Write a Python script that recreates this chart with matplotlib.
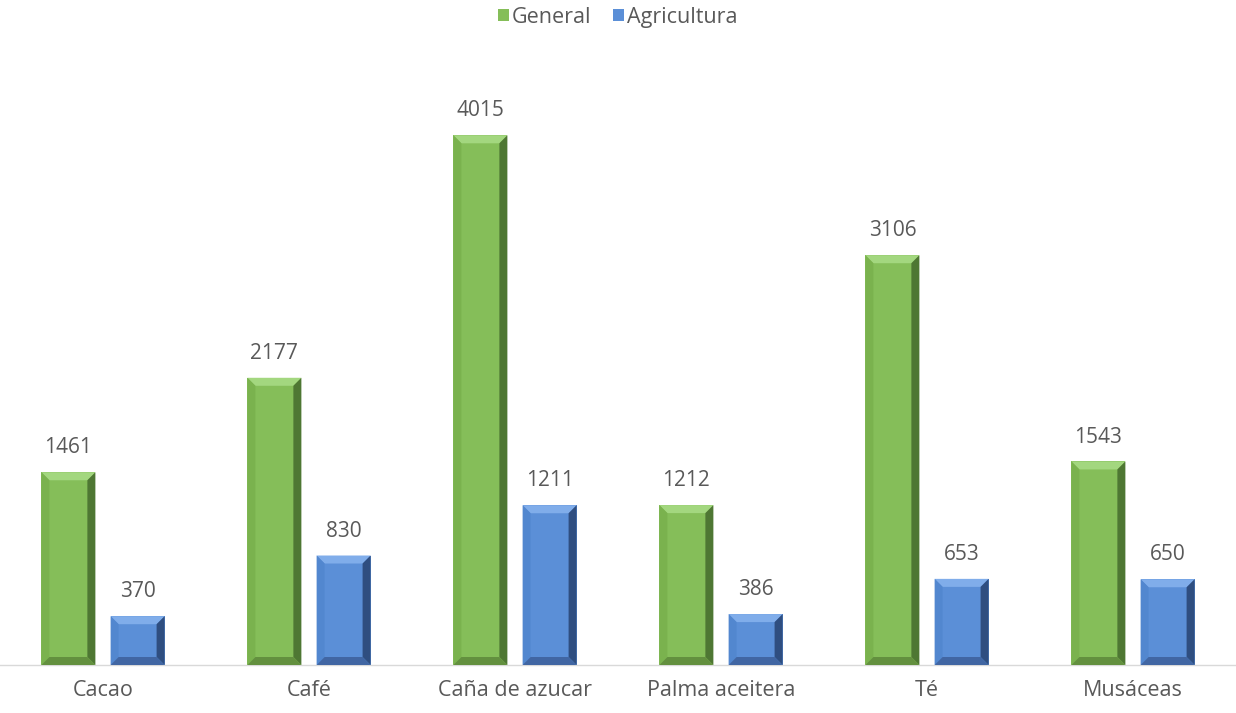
import matplotlib
matplotlib.use("Agg")
import matplotlib.pyplot as plt
from matplotlib.patches import Polygon, Rectangle
import numpy as np

categories = ["Cacao", "Café", "Caña de azucar", "Palma aceitera", "Té", "Musáceas"]
general = [1461, 2177, 4015, 1212, 3106, 1543]
agricultura = [370, 830, 1211, 386, 653, 650]
series_names = ["General", "Agricultura"]

plt.rcParams['font.family'] = ['Open Sans', 'DejaVu Sans']
TEXT = "#595959"

fig = plt.figure(figsize=(12.36, 7.13), dpi=100)
ax = fig.add_axes([0.0, 0.0673, 1.0, 0.8327])

x = np.arange(len(categories))
width = 0.262
offset = 0.168
ymax = 4500
ax.set_xlim(-0.5, len(categories) - 0.5)
ax.set_ylim(0, ymax)

palettes = {
    "General": dict(face="#85be59", top="#a3d77f", left="#7ab24e", right="#4e7733", bottom="#63903f"),
    "Agricultura": dict(face="#5b8fd7", top="#80adea", left="#5287cf", right="#2f4e80", bottom="#4166a3"),
}

bx = 8 / 206.0
by = 8 / (593.0 / ymax)

def bevel_bar(xc, h, pal):
    x0, x1 = xc - width / 2, xc + width / 2
    y0, y1 = 0, h
    ax.add_patch(Rectangle((x0, y0), width, h, facecolor=pal["face"], edgecolor="none", zorder=2))
    ix0, ix1, iy0, iy1 = x0 + bx, x1 - bx, y0 + by, y1 - by
    ax.add_patch(Polygon([(x0, y1), (x1, y1), (ix1, iy1), (ix0, iy1)], closed=True,
                         facecolor=pal["top"], edgecolor="none", zorder=3))
    ax.add_patch(Polygon([(x0, y0), (x0, y1), (ix0, iy1), (ix0, iy0)], closed=True,
                         facecolor=pal["left"], edgecolor="none", zorder=3))
    ax.add_patch(Polygon([(x1, y0), (x1, y1), (ix1, iy1), (ix1, iy0)], closed=True,
                         facecolor=pal["right"], edgecolor="none", zorder=3))
    ax.add_patch(Polygon([(x0, y0), (x1, y0), (ix1, iy0), (ix0, iy0)], closed=True,
                         facecolor=pal["bottom"], edgecolor="none", zorder=3))

for vals, sign, name in [(general, -1, "General"), (agricultura, 1, "Agricultura")]:
    for xi, v in zip(x, vals):
        xc = xi + sign * offset
        bevel_bar(xc, v, palettes[name])
        ax.annotate(f"{v}", (xc, v), xytext=(0, 10), textcoords="offset points",
                    ha="center", va="bottom", fontsize=15, color=TEXT)

for s in ["top", "right", "left"]:
    ax.spines[s].set_visible(False)
ax.spines["bottom"].set_color("#d9d9d9")
ax.spines["bottom"].set_linewidth(1.0)
ax.set_yticks([])
ax.set_xticks(x)
ax.set_xticklabels(categories, fontsize=15.5, color=TEXT)
ax.tick_params(axis="x", length=0, pad=11)

handles = [Rectangle((0, 0), 1, 1, facecolor=palettes[n]["face"], edgecolor="none") for n in series_names]
fig.legend(handles, series_names, loc="upper center", bbox_to_anchor=(0.5, 1.018), ncol=2,
           frameon=False, fontsize=15.5, labelcolor=TEXT, handlelength=0.5, handleheight=0.5,
           handletextpad=0.15, columnspacing=1.0)

fig.savefig("out.png", dpi=100)
